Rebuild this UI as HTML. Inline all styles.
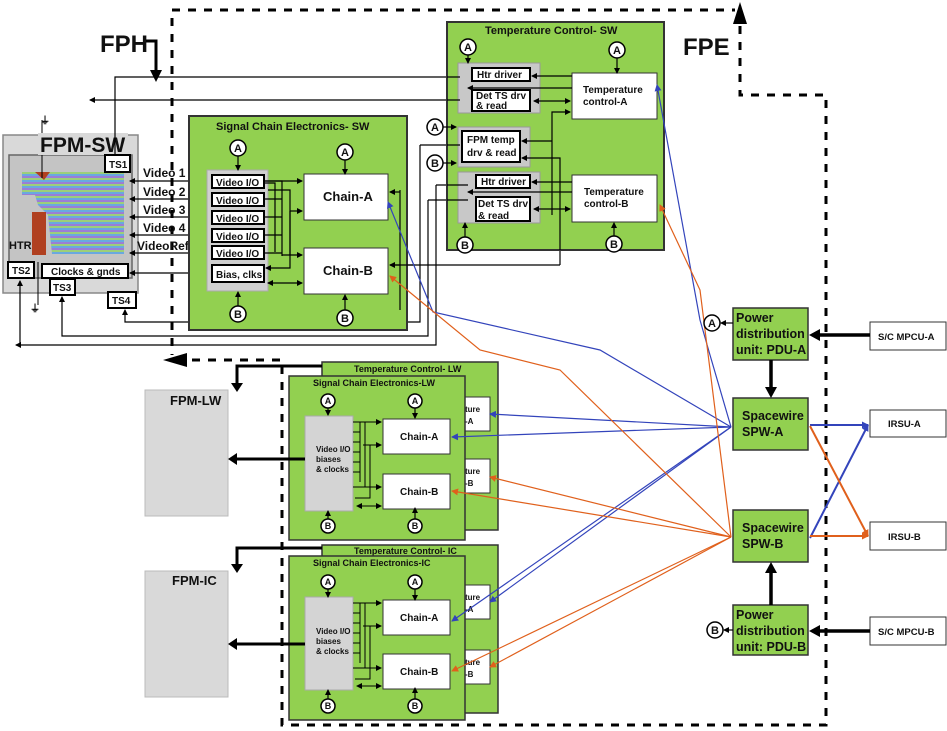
<!DOCTYPE html>
<html><head><meta charset="utf-8"><style>
html,body{margin:0;padding:0;background:#fff}
svg{display:block}
text{font-family:"Liberation Sans",Arial,sans-serif;font-weight:bold;fill:#111}
</style></head><body>
<svg width="947" height="731" viewBox="0 0 947 731" xmlns="http://www.w3.org/2000/svg">
<defs>
<marker id="ak" markerWidth="6" markerHeight="6" refX="5" refY="3" orient="auto" markerUnits="userSpaceOnUse"><path d="M0,0L6,3L0,6z" fill="#000"/></marker>
<marker id="aks" markerWidth="6" markerHeight="6" refX="1" refY="3" orient="auto" markerUnits="userSpaceOnUse"><path d="M6,0L0,3L6,6z" fill="#000"/></marker>
<marker id="ab" markerWidth="7" markerHeight="7" refX="6" refY="3.5" orient="auto" markerUnits="userSpaceOnUse"><path d="M0,0L7,3.5L0,7z" fill="#3344bb"/></marker>
<marker id="ao" markerWidth="7" markerHeight="7" refX="6" refY="3.5" orient="auto" markerUnits="userSpaceOnUse"><path d="M0,0L7,3.5L0,7z" fill="#e0601c"/></marker>
<pattern id="stripes" width="6" height="6" patternUnits="userSpaceOnUse"><rect width="6" height="2" fill="#6aa8e0"/><rect y="2" width="6" height="2" fill="#9a7ed6"/><rect y="4" width="6" height="2" fill="#9ccf7a"/></pattern>
</defs>

<!-- FPE dashed boundary -->
<g stroke="#000" stroke-width="3" fill="none" stroke-dasharray="8,8">
<path d="M172,10 H735"/>
<path d="M740,26 V95 H826 V725 H282 V360 H190"/>
<path d="M172,18 V355"/>
</g>
<path d="M733,24 L740,2 L747,24 Z" fill="#000"/>
<path d="M187,353 L163,360 L187,367 Z" fill="#000"/>
<text x="100" y="52" font-size="24">FPH</text>
<text x="683" y="55" font-size="24">FPE</text>
<path d="M146,41 H156 V72" stroke="#000" stroke-width="3" fill="none"/>
<path d="M150,70 L156,82 L162,70Z" fill="#000"/>

<!-- FPM-SW -->
<rect x="3" y="135" width="135" height="158" fill="#d9d9d9" stroke="#888" stroke-width="1.5"/>
<rect x="9" y="155" width="123" height="123" fill="#c4c4c4" stroke="#666" stroke-width="1.5"/>
<path d="M22,172 H124 V254 H52 L48,215 L38,205 L35,195 L22,195Z" fill="url(#stripes)"/>
<path d="M35,172 L44,180 L50,172Z" fill="#b04020"/>
<rect x="32" y="212" width="14" height="43" fill="#b04020"/>
<text x="9" y="249" font-size="11">HTR</text>
<line x1="42" y1="120" x2="42" y2="178" stroke="#000"/>
<line x1="38" y1="262" x2="38" y2="305" stroke="#000"/>
<text x="40" y="124" font-size="10" font-weight="normal">⏚</text>
<text x="30" y="312" font-size="10" font-weight="normal">⏚</text>

<!-- wires -->
<g stroke="#000" stroke-width="1.2" fill="none">
<path d="M572,76 H532" marker-end="url(#ak)"/><path d="M572,88 H468" marker-end="url(#ak)"/>
<path d="M534,101 H570" marker-end="url(#ak)" marker-start="url(#aks)"/>
<path d="M552,215 V112 H570" marker-end="url(#ak)"/><path d="M552,141 H522" marker-end="url(#ak)"/>
<path d="M560,265 V158 H522" marker-end="url(#ak)"/>
<path d="M572,182 H532" marker-end="url(#ak)"/><path d="M572,192 H468" marker-end="url(#ak)"/>
<path d="M534,209 H570" marker-end="url(#ak)" marker-start="url(#aks)"/>
<path d="M460,77 H115 V153" marker-end="url(#ak)"/>
<path d="M460,100 H90" marker-end="url(#ak)"/>
<path d="M420,145 H460" marker-end="url(#ak)"/><path d="M420,145 V322 H125 V310" marker-end="url(#ak)"/>
<path d="M428,200 V336 H62 V297" marker-end="url(#ak)"/><path d="M428,200 H468" marker-end="url(#ak)"/>
<path d="M436,185 V345 H16" marker-end="url(#ak)"/><path d="M436,185 H468"/>
<path d="M560,265 H400"/>
<path d="M20,345 V281" marker-end="url(#ak)"/>
</g>
<rect x="38" y="133" width="90" height="22" fill="#d9d9d9"/>
<text x="40" y="152" font-size="21">FPM-SW</text>
<line x1="115" y1="133" x2="115" y2="155" stroke="#000" stroke-width="1.2"/>

<g fill="#fff" stroke="#000" stroke-width="2">
<rect x="105" y="155" width="25" height="17"/><rect x="8" y="262" width="26" height="16"/>
<rect x="42" y="264" width="86" height="14"/><rect x="50" y="279" width="25" height="16"/>
<rect x="108" y="292" width="28" height="16"/>
</g>
<g font-size="10"><text x="109" y="168">TS1</text><text x="12" y="274">TS2</text><text x="51" y="275">Clocks &amp; gnds</text><text x="53" y="291">TS3</text><text x="112" y="304">TS4</text></g>
<g font-size="12"><text x="143" y="177">Video 1</text><text x="143" y="196">Video 2</text><text x="143" y="214">Video 3</text><text x="143" y="232">Video 4</text><text x="137" y="250">VideoRef</text></g>
<g stroke="#000" stroke-width="1.3" marker-end="url(#ak)" marker-start="url(#aks)">
<line x1="130" y1="181" x2="210" y2="181"/><line x1="130" y1="199" x2="210" y2="199"/><line x1="130" y1="217" x2="210" y2="217"/><line x1="130" y1="235" x2="210" y2="235"/><line x1="130" y1="253" x2="210" y2="253"/><line x1="130" y1="273" x2="210" y2="273"/>
</g>

<!-- Signal Chain SW -->
<rect x="189" y="116" width="218" height="214" fill="#92d050" stroke="#333" stroke-width="2"/>
<text x="216" y="130" font-size="11">Signal Chain Electronics- SW</text>
<rect x="207" y="170" width="61" height="121" fill="#d0d0d0" stroke="#aaa"/>
<g fill="#fff" stroke="#000" stroke-width="2">
<rect x="212" y="175" width="52" height="13"/><rect x="212" y="193" width="52" height="13"/><rect x="212" y="211" width="52" height="13"/><rect x="212" y="229" width="52" height="13"/><rect x="212" y="246" width="52" height="13"/><rect x="212" y="265" width="52" height="17"/>
</g>
<g font-size="10"><text x="216" y="186">Video I/O</text><text x="216" y="204">Video I/O</text><text x="216" y="222">Video I/O</text><text x="216" y="240">Video I/O</text><text x="216" y="257">Video I/O</text><text x="216" y="278">Bias, clks</text></g>
<rect x="304" y="174" width="84" height="46" fill="#fff" stroke="#333"/>
<rect x="304" y="248" width="84" height="46" fill="#fff" stroke="#333"/>
<text x="323" y="201" font-size="13">Chain-A</text><text x="323" y="275" font-size="13">Chain-B</text>
<g stroke="#000" stroke-width="1.2" fill="none">
<path d="M264,181 H282 V256 M264,199 H282 M264,217 H282 M264,235 H282 M264,253 H282 M264,183 H275 V252 M268,190 H290 V255" />
<path d="M264,181 H302" marker-end="url(#ak)"/><path d="M282,255 H302" marker-end="url(#ak)"/>
<path d="M290,211 H302" marker-end="url(#ak)"/><path d="M290,211 V268 H266" marker-end="url(#ak)"/>
<path d="M268,283 H302" marker-end="url(#ak)" marker-start="url(#aks)"/>
<path d="M400,190 V310"/><path d="M415,265 H390" marker-end="url(#ak)"/><path d="M400,192 H390" marker-end="url(#ak)"/>
<path d="M400,265 H390"/>
</g>

<!-- Temp Control SW -->
<rect x="447" y="22" width="217" height="228" fill="#92d050" stroke="#333" stroke-width="2"/>
<text x="485" y="34" font-size="11">Temperature Control- SW</text>
<rect x="458" y="63" width="82" height="50" fill="#c8c8c8" stroke="#999"/>
<rect x="458" y="127" width="72" height="40" fill="#c8c8c8" stroke="#999"/>
<rect x="458" y="172" width="82" height="51" fill="#c8c8c8" stroke="#999"/>
<g fill="#fff" stroke="#000" stroke-width="2">
<rect x="472" y="68" width="58" height="13"/><rect x="472" y="90" width="58" height="21"/>
<rect x="462" y="131" width="58" height="31"/>
<rect x="476" y="175" width="54" height="13"/><rect x="476" y="197" width="54" height="24"/>
</g>
<rect x="572" y="73" width="85" height="46" fill="#fff" stroke="#333"/>
<rect x="572" y="175" width="85" height="47" fill="#fff" stroke="#333"/>
<g font-size="10">
<text x="477" y="78">Htr driver</text><text x="476" y="99">Det TS drv</text><text x="476" y="109">&amp; read</text>
<text x="467" y="143">FPM temp</text><text x="467" y="156">drv &amp; read</text>
<text x="481" y="185">Htr driver</text><text x="478" y="207">Det TS drv</text><text x="478" y="219">&amp; read</text>
<text x="583" y="93">Temperature</text><text x="583" y="105">control-A</text>
<text x="584" y="195">Temperature</text><text x="584" y="207">control-B</text>
</g>
<g stroke="#000" stroke-width="1.2" fill="none">
<path d="M572,76 H532" marker-end="url(#ak)"/><path d="M572,88 H468" marker-end="url(#ak)"/>
<path d="M534,101 H570" marker-end="url(#ak)" marker-start="url(#aks)"/>
<path d="M552,215 V112 H570" marker-end="url(#ak)"/><path d="M552,141 H522" marker-end="url(#ak)"/>
<path d="M560,250 V158 H522" marker-end="url(#ak)"/>
<path d="M572,182 H532" marker-end="url(#ak)"/><path d="M572,192 H468" marker-end="url(#ak)"/>
<path d="M534,209 H570" marker-end="url(#ak)" marker-start="url(#aks)"/>
<path d="M447,77 H460 M447,100 H460 M447,145 H460 M447,200 H468 M447,185 H468"/>
</g>

<!-- LW -->
<rect x="322" y="362" width="176" height="168" fill="#92d050" stroke="#333" stroke-width="1.5"/>
<text x="354" y="372" font-size="9">Temperature Control- LW</text>
<rect x="463" y="397" width="27" height="34" fill="#fff" stroke="#333"/><rect x="463" y="459" width="27" height="34" fill="#fff" stroke="#333"/>
<g font-size="8" font-weight="normal"><text x="465" y="412">ture</text><text x="465" y="424">-A</text><text x="465" y="474">ture</text><text x="465" y="486">-B</text></g>
<rect x="289" y="376" width="176" height="164" fill="#92d050" stroke="#333" stroke-width="1.5"/>
<text x="313" y="386" font-size="9">Signal Chain Electronics-LW</text>
<rect x="305" y="416" width="48" height="95" fill="#d4d4d4" stroke="#aaa"/>
<g font-size="8" font-weight="normal"><text x="316" y="452">Video I/O</text><text x="316" y="462">biases</text><text x="316" y="472">&amp; clocks</text></g>
<rect x="383" y="419" width="67" height="35" fill="#fff" stroke="#333"/><rect x="383" y="474" width="67" height="35" fill="#fff" stroke="#333"/>
<g font-size="10" font-weight="normal"><text x="400" y="440">Chain-A</text><text x="400" y="495">Chain-B</text></g>
<g stroke="#000" stroke-width="1" fill="none">
<path d="M353,422 H381" marker-end="url(#ak)"/><path d="M353,487 H381" marker-end="url(#ak)"/><path d="M363,445 H381" marker-end="url(#ak)"/>
<path d="M353,432 H360 M353,442 H360 M353,452 H360 M353,462 H360 M353,472 H360 M360,422 V482 M365,422 V487 M370,445 V498 H355" />
<path d="M357,506 H381" marker-end="url(#ak)" marker-start="url(#aks)"/>
</g>
<!-- IC -->
<rect x="322" y="545" width="176" height="168" fill="#92d050" stroke="#333" stroke-width="1.5"/>
<text x="354" y="554" font-size="9">Temperature Control- IC</text>
<rect x="463" y="585" width="27" height="34" fill="#fff" stroke="#333"/><rect x="463" y="650" width="27" height="34" fill="#fff" stroke="#333"/>
<g font-size="8" font-weight="normal"><text x="465" y="600">ture</text><text x="465" y="612">-A</text><text x="465" y="665">ture</text><text x="465" y="677">-B</text></g>
<rect x="289" y="556" width="176" height="164" fill="#92d050" stroke="#333" stroke-width="1.5"/>
<text x="313" y="566" font-size="9">Signal Chain Electronics-IC</text>
<rect x="305" y="597" width="48" height="93" fill="#d4d4d4" stroke="#aaa"/>
<g font-size="8" font-weight="normal"><text x="316" y="634">Video I/O</text><text x="316" y="644">biases</text><text x="316" y="654">&amp; clocks</text></g>
<rect x="383" y="600" width="67" height="35" fill="#fff" stroke="#333"/><rect x="383" y="654" width="67" height="35" fill="#fff" stroke="#333"/>
<g font-size="10" font-weight="normal"><text x="400" y="621">Chain-A</text><text x="400" y="675">Chain-B</text></g>
<g stroke="#000" stroke-width="1" fill="none">
<path d="M353,603 H381" marker-end="url(#ak)"/><path d="M353,668 H381" marker-end="url(#ak)"/><path d="M363,626 H381" marker-end="url(#ak)"/>
<path d="M353,613 H360 M353,623 H360 M353,633 H360 M353,643 H360 M353,653 H360 M360,603 V663 M365,603 V668 M370,626 V679 H355" />
<path d="M357,686 H381" marker-end="url(#ak)" marker-start="url(#aks)"/>
</g>

<!-- FPM-LW / IC -->
<rect x="145" y="390" width="83" height="126" fill="#d9d9d9" stroke="#bbb"/>
<rect x="145" y="571" width="83" height="126" fill="#d9d9d9" stroke="#bbb"/>
<text x="170" y="405" font-size="13">FPM-LW</text><text x="172" y="585" font-size="13">FPM-IC</text>
<g stroke="#000" stroke-width="3" fill="none">
<path d="M322,366 H237 V384"/><path d="M305,459 H236"/>
<path d="M322,548 H237 V565"/><path d="M305,644 H236"/>
</g>
<g fill="#000"><path d="M231,383 L237,392 L243,383Z"/><path d="M237,453 L228,459 L237,465Z"/><path d="M231,564 L237,573 L243,564Z"/><path d="M237,638 L228,644 L237,650Z"/></g>

<!-- Right side -->
<g fill="#92d050" stroke="#333" stroke-width="1.5">
<rect x="733" y="308" width="75" height="52"/><rect x="733" y="398" width="75" height="52"/><rect x="733" y="510" width="75" height="52"/><rect x="733" y="605" width="75" height="50"/>
</g>
<g font-size="12.5"><text x="736" y="322">Power</text><text x="736" y="338">distribution</text><text x="736" y="354">unit: PDU-A</text>
<text x="742" y="420">Spacewire</text><text x="742" y="436">SPW-A</text>
<text x="742" y="532">Spacewire</text><text x="742" y="548">SPW-B</text>
<text x="736" y="619">Power</text><text x="736" y="635">distribution</text><text x="736" y="651">unit: PDU-B</text></g>
<g fill="#fff" stroke="#333" stroke-width="1">
<rect x="870" y="322" width="76" height="28"/><rect x="870" y="410" width="76" height="27"/><rect x="870" y="522" width="76" height="28"/><rect x="870" y="617" width="76" height="28"/>
</g>
<g font-size="9.5"><text x="878" y="340">S/C MPCU-A</text><text x="888" y="427">IRSU-A</text><text x="888" y="540">IRSU-B</text><text x="878" y="635">S/C MPCU-B</text></g>
<g stroke="#000" stroke-width="3.5">
<line x1="870" y1="335" x2="818" y2="335"/><line x1="870" y1="631" x2="818" y2="631"/>
<line x1="771" y1="360" x2="771" y2="388"/><line x1="771" y1="605" x2="771" y2="572"/>
</g>
<g fill="#000"><path d="M820,329 L809,335 L820,341Z"/><path d="M820,625 L809,631 L820,637Z"/><path d="M765,387 L771,398 L777,387Z"/><path d="M765,573 L771,562 L777,573Z"/></g>
<g stroke-width="2" fill="none">
<path d="M810,425 H868" stroke="#3344bb" marker-end="url(#ab)"/>
<path d="M810,538 L868,425" stroke="#3344bb" marker-end="url(#ab)"/>
<path d="M810,536 H868" stroke="#e0601c" marker-end="url(#ao)"/>
<path d="M810,426 L868,536" stroke="#e0601c" marker-end="url(#ao)"/>
</g>
<!-- blue fan -->
<g stroke="#3344bb" stroke-width="1.2" fill="none">
<path d="M731,427 L710,355 L700,320 L657,85" marker-end="url(#ab)"/>
<path d="M731,427 L600,350 L433,312 L388,202" marker-end="url(#ab)"/>
<path d="M731,427 L490,414" marker-end="url(#ab)"/>
<path d="M731,427 L452,437" marker-end="url(#ab)"/>
<path d="M731,427 L490,602" marker-end="url(#ab)"/>
<path d="M731,427 L452,621" marker-end="url(#ab)"/>
</g>
<g stroke="#e0601c" stroke-width="1.2" fill="none">
<path d="M731,537 L700,290 L660,205" marker-end="url(#ao)"/>
<path d="M731,537 L560,370 L480,350 L390,276" marker-end="url(#ao)"/>
<path d="M731,537 L490,477" marker-end="url(#ao)"/>
<path d="M731,537 L452,491" marker-end="url(#ao)"/>
<path d="M731,537 L490,667" marker-end="url(#ao)"/>
<path d="M731,537 L452,671" marker-end="url(#ao)"/>
</g>

<!-- circles (on top) -->
<g stroke="#000" stroke-width="1.2" marker-end="url(#ak)">
<line x1="238" y1="156" x2="238" y2="170"/><line x1="345" y1="160" x2="345" y2="174"/><line x1="238" y1="306" x2="238" y2="292"/><line x1="345" y1="310" x2="345" y2="295"/>
<line x1="468" y1="55" x2="468" y2="63"/><line x1="617" y1="58" x2="617" y2="73"/><line x1="443" y1="127" x2="456" y2="127"/><line x1="443" y1="163" x2="456" y2="163"/><line x1="465" y1="237" x2="465" y2="223"/><line x1="614" y1="236" x2="614" y2="223"/>
<line x1="733" y1="323" x2="721" y2="323"/><line x1="733" y1="630" x2="724" y2="630"/>
<line x1="328" y1="408" x2="328" y2="415"/><line x1="415" y1="408" x2="415" y2="418"/><line x1="328" y1="519" x2="328" y2="511"/><line x1="415" y1="519" x2="415" y2="508"/>
<line x1="328" y1="589" x2="328" y2="597"/><line x1="415" y1="589" x2="415" y2="600"/><line x1="328" y1="699" x2="328" y2="690"/><line x1="415" y1="699" x2="415" y2="688"/>
</g>
<g fill="#fff" stroke="#000" stroke-width="1.5">
<circle cx="238" cy="148" r="8"/><circle cx="345" cy="152" r="8"/><circle cx="238" cy="314" r="8"/><circle cx="345" cy="318" r="8"/>
<circle cx="468" cy="47" r="8"/><circle cx="617" cy="50" r="8"/><circle cx="435" cy="127" r="8"/><circle cx="435" cy="163" r="8"/><circle cx="465" cy="245" r="8"/><circle cx="614" cy="244" r="8"/>
<circle cx="712" cy="323" r="8"/><circle cx="715" cy="630" r="8"/>
<circle cx="328" cy="401" r="7"/><circle cx="415" cy="401" r="7"/><circle cx="328" cy="526" r="7"/><circle cx="415" cy="526" r="7"/>
<circle cx="328" cy="582" r="7"/><circle cx="415" cy="582" r="7"/><circle cx="328" cy="706" r="7"/><circle cx="415" cy="706" r="7"/>
</g>
<g font-size="11" text-anchor="middle">
<text x="238" y="152">A</text><text x="345" y="156">A</text><text x="238" y="318">B</text><text x="345" y="322">B</text>
<text x="468" y="51">A</text><text x="617" y="54">A</text><text x="435" y="131">A</text><text x="435" y="167">B</text><text x="465" y="249">B</text><text x="614" y="248">B</text>
<text x="712" y="327">A</text><text x="715" y="634">B</text>
</g>
<g font-size="9" text-anchor="middle" font-weight="normal">
<text x="328" y="404">A</text><text x="415" y="404">A</text><text x="328" y="529">B</text><text x="415" y="529">B</text>
<text x="328" y="585">A</text><text x="415" y="585">A</text><text x="328" y="709">B</text><text x="415" y="709">B</text>
</g>
</svg>
</body></html>
